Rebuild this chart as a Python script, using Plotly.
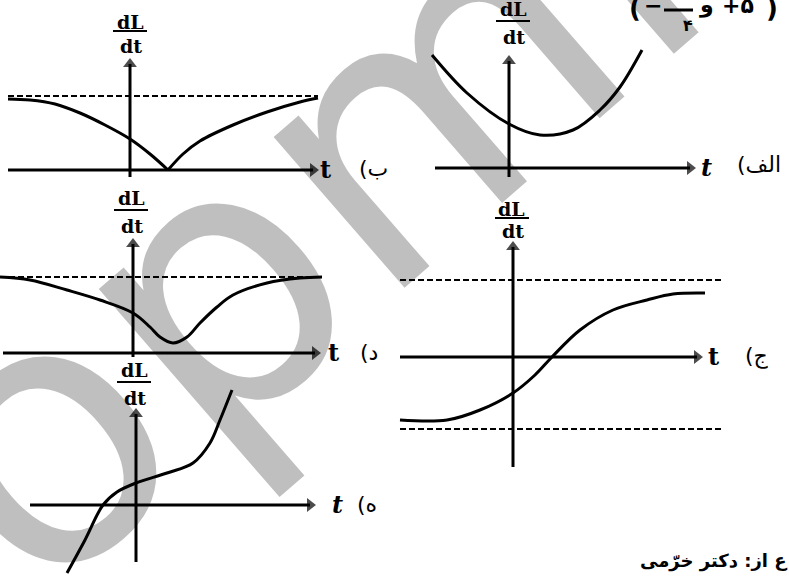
import plotly.graph_objects as go

W, H = 789, 576
UNIT = 10  # pixels per data unit on every panel

# ---- data (t, dL/dt) for each sketch ----
# (ب) rate falls to zero then climbs back toward the limit
b_t_left = [-12.2, -10, -7.5, -5, -2.5, 0, 2, 3.8]
b_v_left = [7.1, 7.0, 6.6, 5.7, 4.5, 3.1, 1.6, 0]
b_t_right = [3.8, 5.3, 7, 10.3, 13.7, 17, 18.8]
b_v_right = [0, 1.6, 2.9, 4.5, 5.8, 6.8, 7.2]
b_limit = 7.4

# (الف) parabola-like curve
a_t = [-7.7, -4.2, 0, 3.1, 6.4, 9.1, 11.1, 13.3]
a_v = [11.3, 7.5, 4.4, 3.3, 3.8, 5.8, 8.1, 11.8]

# (د) dip below the limit, never reaching zero
d_t = [-13.3, -10.3, -6.6, -3.3, 0, 1.7, 2.7, 4.0, 5.4, 6.7, 8.4, 10, 13.4, 16.7, 18.9]
d_v = [7.6, 7.3, 6.3, 5.3, 4.0, 2.6, 1.6, 1.0, 1.6, 3.0, 4.6, 5.8, 7.0, 7.5, 7.6]
d_limit = 7.6

# (ج) S-curve between two limits
c_t = [-11.3, -6.6, -3.3, 0, 2.2, 3.9, 6.7, 10, 13.4, 16, 19.2]
c_v = [-6.3, -6.3, -5.3, -3.6, -1.8, 0, 2.7, 4.7, 5.7, 6.3, 6.4]
c_upper = 7.7
c_lower = -7.2

# (ه) increasing curve with an inflection
h_t = [-6.9, -5.1, -3.3, -1.9, 0, 3.1, 5.7, 7.4, 8.4, 9.6]
h_v = [-6.8, -3.5, 0, 1.3, 2.2, 3.2, 4.2, 6.2, 8.5, 11.5]

# ---- panel layout: origin in pixels, axis extents in data units ----
panels = [
    dict(key="ب", origin=(130, 170), h=(-12.2, 18.3), v=(-0.7, 10.6), italic=False,
         t_pos=(325, 169), lab_pos=(373, 168), frac=(130, 22, 31, 46)),
    dict(key="الف", origin=(509, 168), h=(-7.4, 18.1), v=(-0.9, 10.7), italic=True,
         t_pos=(706, 167), lab_pos=(759, 164), frac=(513, 9, 21, 37)),
    dict(key="د", origin=(133, 353), h=(-13.0, 18.2), v=(-0.4, 10.9), italic=False,
         t_pos=(333, 352), lab_pos=(369, 352), frac=(131, 198, 210, 226)),
    dict(key="ج", origin=(513, 357), h=(-11.3, 18.4), v=(-11.0, 11.0), italic=False,
         t_pos=(713, 356), lab_pos=(757, 356), frac=(512, 209, 218, 231)),
    dict(key="ه", origin=(136, 505), h=(-10.6, 17.4), v=(-5.7, 9.1), italic=True,
         t_pos=(337, 504), lab_pos=(367, 504), frac=(134, 370, 382, 398)),
]


def P(x, y):
    """pixel position -> paper coordinates"""
    return x / W, 1 - y / H


def note(x, y, text, **kw):
    """text centred on a pixel position of the page"""
    px_, py_ = P(x, y)
    d = dict(x=px_, y=py_, xref="paper", yref="paper", xanchor="center", yanchor="middle",
             text=text, showarrow=False)
    d.update(kw)
    return d


def hline(x0, x1, y, width):
    a, b = P(x0, y)
    c, _ = P(x1, y)
    return dict(type="line", xref="paper", yref="paper", x0=a, x1=c, y0=b, y1=b,
                line=dict(color="black", width=width))


fig = go.Figure()
layout_axes = {}
annotations = []
shapes = []

CURVE = dict(color="black", width=3)
DASH = dict(color="black", width=2, dash="6px,3px")
SERIF = dict(family="DejaVu Serif", size=19, color="black")


def axis_names(i):
    return ("x", "y") if i == 0 else (f"x{i+1}", f"y{i+1}")


for i, p in enumerate(panels):
    ox, oy = p["origin"]
    xa, ya = axis_names(i)
    xkey = "xaxis" if i == 0 else f"xaxis{i+1}"
    ykey = "yaxis" if i == 0 else f"yaxis{i+1}"
    common = dict(visible=False, showgrid=False, zeroline=False, fixedrange=True)
    xcfg = dict(common, range=[-ox / UNIT, (W - ox) / UNIT])
    ycfg = dict(common, range=[-(H - oy) / UNIT, oy / UNIT])
    if i > 0:
        xcfg["overlaying"] = "x"
        ycfg["overlaying"] = "y"
    else:
        xcfg["domain"] = [0, 1]
        ycfg["domain"] = [0, 1]
    layout_axes[xkey] = xcfg
    layout_axes[ykey] = ycfg

    # horizontal t axis with arrow head
    h0, h1 = p["h"]
    fig.add_trace(go.Scatter(x=[h0, h1], y=[0, 0], mode="lines+markers", xaxis=xa, yaxis=ya,
                             line=dict(color="black", width=3),
                             marker=dict(symbol=["circle", "triangle-right"], size=[0, 12],
                                         color="black", line=dict(width=0)),
                             hoverinfo="skip", showlegend=False))
    # vertical dL/dt axis with arrow head
    v0, v1 = p["v"]
    fig.add_trace(go.Scatter(x=[0, 0], y=[v0, v1], mode="lines+markers", xaxis=xa, yaxis=ya,
                             line=dict(color="black", width=3),
                             marker=dict(symbol=["circle", "triangle-up"], size=[0, 12],
                                         color="black", line=dict(width=0)),
                             hoverinfo="skip", showlegend=False))

    # axis labels
    fx, y_dl, y_bar, y_dt = p["frac"]
    annotations.append(note(fx, y_dl, "<b>dL</b>", font=SERIF))
    annotations.append(note(fx + 1, y_dt, "<b>dt</b>", font=SERIF))
    shapes.append(hline(fx - 17, fx + 17, y_bar, 2))

    ttext = "<i><b>t</b></i>" if p["italic"] else "<b>t</b>"
    annotations.append(note(*p["t_pos"], ttext, font=dict(family="DejaVu Serif", size=24, color="black")))
    annotations.append(note(*p["lab_pos"], "(" + p["key"],
                            font=dict(family="DejaVu Sans", size=22, color="black")))


def curve(t, v, i, style=CURVE, shape="spline"):
    xa, ya = axis_names(i)
    fig.add_trace(go.Scatter(x=t, y=v, mode="lines", xaxis=xa, yaxis=ya,
                             line=dict(style, shape=shape),
                             hoverinfo="skip", showlegend=False))


# (ب)
curve([b_t_left[0], b_t_right[-1]], [b_limit, b_limit], 0, DASH, shape="linear")
curve(b_t_left, b_v_left, 0)
curve(b_t_right, b_v_right, 0)
# (الف)
curve(a_t, a_v, 1)
# (د)
curve([d_t[0], d_t[-1]], [d_limit, d_limit], 2, DASH, shape="linear")
curve(d_t, d_v, 2)
# (ج)
curve([-11.3, 21.0], [c_upper, c_upper], 3, DASH, shape="linear")
curve([-11.3, 21.0], [c_lower, c_lower], 3, DASH, shape="linear")
curve(c_t, c_v, 3)
# (ه)
curve(h_t, h_v, 4)

# heading fragment at the top right: ( −۳/۴ و +۵ )
head = [("(", 635, 8, 26), ("−", 653, 5, 22), ("و", 706, 5, 22), ("+۵", 738, 5, 22), (")", 772, 8, 26)]
for txt, x, y, s in head:
    annotations.append(note(x, y, f"<b>{txt}</b>", font=dict(family="DejaVu Sans", size=s, color="black")))
annotations.append(note(688, 26, "<b>۴</b>", font=dict(family="DejaVu Sans", size=16, color="black")))
shapes.append(hline(664, 693, 10, 3))

# source line at the bottom right
annotations.append(note(789, 561, "<b>ع از: دکتر خرّمی</b>", xanchor="right",
                        font=dict(family="DejaVu Sans", size=18, color="black")))

# watermark
annotations.append(note(297, 213, "opmi", textangle=-41,
                        font=dict(family="DejaVu Sans", size=365, color="rgba(0,0,0,0.25)")))

fig.update_layout(
    width=W, height=H,
    margin=dict(l=0, r=0, t=0, b=0),
    paper_bgcolor="white", plot_bgcolor="white",
    showlegend=False,
    annotations=annotations,
    shapes=shapes,
    **layout_axes,
)

fig.write_html("out.html")
